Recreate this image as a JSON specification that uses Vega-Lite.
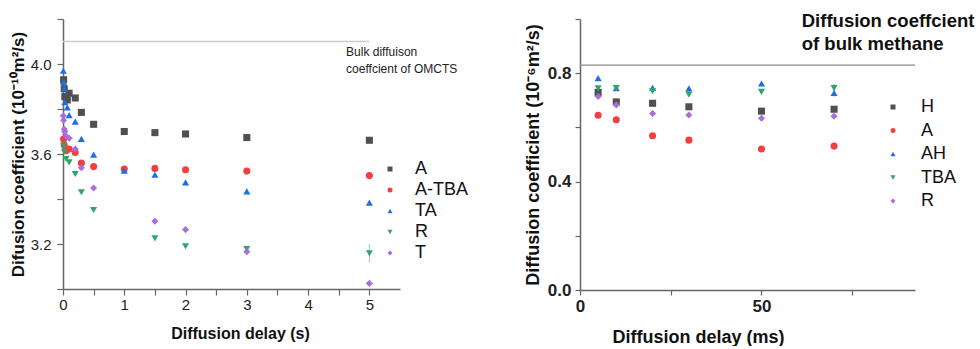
{
  "$schema": "https://vega.github.io/schema/vega-lite/v6.json",
  "padding": {"left": 9, "top": 10, "right": 0, "bottom": 0},
  "config": {
    "font": "Liberation Sans",
    "view": {"stroke": null},
    "axis": {"grid": false, "domainColor": "#666666", "tickColor": "#666666", "domainWidth": 1.5, "tickWidth": 1.2, "labelColor": "#222222", "titleColor": "#111111", "labelOverlap": false, "labelFlush": false}
  },
  "spacing": 180,
  "bounds": "flush",
  "resolve": {"scale": {"color": "independent", "shape": "independent", "x": "independent", "y": "independent"}},
  "hconcat": [
    {
      "width": 337,
      "height": 270,
      "encoding": {
        "x": {"field": "x", "type": "quantitative", "scale": {"domain": [0, 5.5], "nice": false}, "title": "Diffusion delay (s)",
          "axis": {"values": [0, 0.5, 1, 1.5, 2, 2.5, 3, 3.5, 4, 4.5, 5], "labelExpr": "datum.value % 1 === 0 ? format(datum.value, 'd') : ''", "labelFontSize": 15, "tickSize": 6, "labelPadding": 2, "titleFontSize": 16, "titleFontWeight": "bold", "titlePadding": 13, "titleX": 177}},
        "y": {"field": "y", "type": "quantitative", "scale": {"domain": [3.0, 4.2], "nice": false, "zero": false}, "title": "Difusion coefficient (10⁻¹⁰m²/s)",
          "axis": {"values": [3.0, 3.2, 3.4, 3.6, 3.8, 4.0, 4.2], "labelExpr": "(abs(datum.value-3.2)<0.001 || abs(datum.value-3.6)<0.001 || abs(datum.value-4.0)<0.001) ? format(datum.value, '.1f') : ''", "labelFontSize": 15, "tickSize": 6, "labelPadding": 6, "titleFontSize": 17, "titleFontWeight": "bold", "titlePadding": 3}}
      },
      "layer": [
        {
          "data": {"values": [{"x": 0, "x2": 5, "y": 4.1}]},
          "mark": {"type": "rule", "color": "#cccccc", "strokeWidth": 1.5},
          "encoding": {"x2": {"field": "x2"}}
        },
        {
          "data": {"values": [{"x": 3, "y": 3.168, "y2": 3.188}, {"x": 5, "y": 3.117, "y2": 3.201}]},
          "mark": {"type": "rule", "color": "#8fd1ad", "strokeWidth": 1},
          "encoding": {"y2": {"field": "y2"}}
        },
        {
          "data": {"values": [
            {"series": "A", "x": 0.01, "y": 3.93}, {"series": "A", "x": 0.02, "y": 3.89}, {"series": "A", "x": 0.03, "y": 3.855}, {"series": "A", "x": 0.07, "y": 3.84}, {"series": "A", "x": 0.1, "y": 3.87}, {"series": "A", "x": 0.2, "y": 3.849}, {"series": "A", "x": 0.3, "y": 3.785}, {"series": "A", "x": 0.5, "y": 3.732}, {"series": "A", "x": 1, "y": 3.70}, {"series": "A", "x": 1.5, "y": 3.695}, {"series": "A", "x": 2, "y": 3.689}, {"series": "A", "x": 3, "y": 3.673}, {"series": "A", "x": 5, "y": 3.661},
            {"series": "A-TBA", "x": 0.01, "y": 3.667}, {"series": "A-TBA", "x": 0.02, "y": 3.64}, {"series": "A-TBA", "x": 0.05, "y": 3.615}, {"series": "A-TBA", "x": 0.1, "y": 3.622}, {"series": "A-TBA", "x": 0.2, "y": 3.607}, {"series": "A-TBA", "x": 0.3, "y": 3.56}, {"series": "A-TBA", "x": 0.5, "y": 3.544}, {"series": "A-TBA", "x": 1, "y": 3.533}, {"series": "A-TBA", "x": 1.5, "y": 3.536}, {"series": "A-TBA", "x": 2, "y": 3.53}, {"series": "A-TBA", "x": 3, "y": 3.524}, {"series": "A-TBA", "x": 5, "y": 3.504},
            {"series": "TA", "x": 0.005, "y": 3.97}, {"series": "TA", "x": 0.01, "y": 3.92}, {"series": "TA", "x": 0.02, "y": 3.89}, {"series": "TA", "x": 0.03, "y": 3.83}, {"series": "TA", "x": 0.07, "y": 3.807}, {"series": "TA", "x": 0.1, "y": 3.773}, {"series": "TA", "x": 0.2, "y": 3.744}, {"series": "TA", "x": 0.3, "y": 3.667}, {"series": "TA", "x": 0.5, "y": 3.597}, {"series": "TA", "x": 1, "y": 3.526}, {"series": "TA", "x": 1.5, "y": 3.508}, {"series": "TA", "x": 2, "y": 3.474}, {"series": "TA", "x": 3, "y": 3.434}, {"series": "TA", "x": 5, "y": 3.384},
            {"series": "R", "x": 0.01, "y": 3.637}, {"series": "R", "x": 0.02, "y": 3.61}, {"series": "R", "x": 0.05, "y": 3.578}, {"series": "R", "x": 0.1, "y": 3.563}, {"series": "R", "x": 0.2, "y": 3.511}, {"series": "R", "x": 0.3, "y": 3.43}, {"series": "R", "x": 0.5, "y": 3.351}, {"series": "R", "x": 1.5, "y": 3.225}, {"series": "R", "x": 2, "y": 3.19}, {"series": "R", "x": 3, "y": 3.178}, {"series": "R", "x": 5, "y": 3.159},
            {"series": "T", "x": 0.005, "y": 3.77}, {"series": "T", "x": 0.01, "y": 3.75}, {"series": "T", "x": 0.02, "y": 3.71}, {"series": "T", "x": 0.03, "y": 3.70}, {"series": "T", "x": 0.05, "y": 3.68}, {"series": "T", "x": 0.1, "y": 3.67}, {"series": "T", "x": 0.2, "y": 3.622}, {"series": "T", "x": 0.3, "y": 3.539}, {"series": "T", "x": 0.5, "y": 3.449}, {"series": "T", "x": 1.5, "y": 3.301}, {"series": "T", "x": 2, "y": 3.264}, {"series": "T", "x": 3, "y": 3.166}, {"series": "T", "x": 5, "y": 3.025}
          ]},
          "mark": {"type": "point", "filled": true, "opacity": 1, "size": 50},
          "encoding": {
            "color": {"field": "series", "type": "nominal", "scale": {"domain": ["A", "A-TBA", "TA", "R", "T"], "range": ["#505050", "#f23f3f", "#1d6fe3", "#2ea56b", "#a86edb"]},
              "legend": {"orient": "none", "legendX": 318, "legendY": 141, "title": null, "labelFontSize": 18, "labelColor": "#111111", "symbolSize": 25, "rowPadding": 3, "labelOffset": 16, "padding": 0}},
            "shape": {"field": "series", "type": "nominal", "scale": {"domain": ["A", "A-TBA", "TA", "R", "T"], "range": ["square", "circle", "triangle-up", "triangle-down", "diamond"]},
              "legend": {"orient": "none", "legendX": 318, "legendY": 141, "title": null, "labelFontSize": 18, "labelColor": "#111111", "symbolSize": 25, "rowPadding": 3, "labelOffset": 16, "padding": 0}}
          }
        },
        {
          "data": {"values": [{"x": 4.62, "y": 4.053, "t": "Bulk diffuison"}, {"x": 4.62, "y": 3.978, "t": "coeffcient of OMCTS"}]},
          "mark": {"type": "text", "align": "left", "baseline": "middle", "fontSize": 12, "color": "#222222"},
          "encoding": {"text": {"field": "t"}}
        }
      ]
    },
    {
      "width": 335,
      "height": 271,
      "encoding": {
        "x": {"field": "x", "type": "quantitative", "scale": {"domain": [0, 92.3], "nice": false}, "title": "Diffusion delay (ms)",
          "axis": {"values": [0, 25, 50, 75], "labelExpr": "datum.value % 50 === 0 ? format(datum.value, 'd') : ''", "labelFontSize": 17, "labelFontWeight": "bold", "tickSize": 5, "labelPadding": 3, "titleFontSize": 18, "titleFontWeight": "bold", "titlePadding": 14, "titleX": 118}},
        "y": {"field": "y", "type": "quantitative", "scale": {"domain": [0, 1.0], "nice": false}, "title": "Diffusion coefficient (10⁻⁶m²/s)",
          "axis": {"values": [0, 0.2, 0.4, 0.6, 0.8, 1.0], "labelExpr": "(abs(datum.value)<0.001 || abs(datum.value-0.4)<0.001 || abs(datum.value-0.8)<0.001) ? format(datum.value, '.1f') : ''", "labelFontSize": 17, "labelFontWeight": "bold", "tickSize": 5, "labelPadding": 4, "titleFontSize": 18, "titleFontWeight": "bold", "titlePadding": 5}}
      },
      "layer": [
        {
          "data": {"values": [{"x": 0, "x2": 92.3, "y": 0.83}]},
          "mark": {"type": "rule", "color": "#8a8a8a", "strokeWidth": 1.2},
          "encoding": {"x2": {"field": "x2"}}
        },
        {
          "data": {"values": [{"x": 70, "y": 0.73, "y2": 0.76}, {"x": 70, "y": 0.712, "y2": 0.742}]},
          "mark": {"type": "rule", "color": "#9bb8e6", "strokeWidth": 1},
          "encoding": {"y2": {"field": "y2"}}
        },
        {
          "data": {"values": [
            {"series": "H", "x": 5, "y": 0.729}, {"series": "H", "x": 10, "y": 0.694}, {"series": "H", "x": 20, "y": 0.689}, {"series": "H", "x": 30, "y": 0.676}, {"series": "H", "x": 50, "y": 0.66}, {"series": "H", "x": 70, "y": 0.667},
            {"series": "A", "x": 5, "y": 0.645}, {"series": "A", "x": 10, "y": 0.628}, {"series": "A", "x": 20, "y": 0.569}, {"series": "A", "x": 30, "y": 0.553}, {"series": "A", "x": 50, "y": 0.52}, {"series": "A", "x": 70, "y": 0.531},
            {"series": "AH", "x": 5, "y": 0.782}, {"series": "AH", "x": 10, "y": 0.745}, {"series": "AH", "x": 20, "y": 0.746}, {"series": "AH", "x": 30, "y": 0.744}, {"series": "AH", "x": 50, "y": 0.762}, {"series": "AH", "x": 70, "y": 0.727},
            {"series": "TBA", "x": 5, "y": 0.744}, {"series": "TBA", "x": 10, "y": 0.745}, {"series": "TBA", "x": 20, "y": 0.734}, {"series": "TBA", "x": 30, "y": 0.721}, {"series": "TBA", "x": 50, "y": 0.731}, {"series": "TBA", "x": 70, "y": 0.745},
            {"series": "R", "x": 5, "y": 0.714}, {"series": "R", "x": 10, "y": 0.683}, {"series": "R", "x": 20, "y": 0.651}, {"series": "R", "x": 30, "y": 0.646}, {"series": "R", "x": 50, "y": 0.634}, {"series": "R", "x": 70, "y": 0.641}
          ]},
          "mark": {"type": "point", "filled": true, "opacity": 1, "size": 50},
          "encoding": {
            "color": {"field": "series", "type": "nominal", "scale": {"domain": ["H", "A", "AH", "TBA", "R"], "range": ["#505050", "#f23f3f", "#1d6fe3", "#2ea56b", "#a86edb"]},
              "legend": {"orient": "none", "legendX": 304, "legendY": 79, "title": null, "labelFontSize": 18, "labelColor": "#111111", "symbolSize": 25, "rowPadding": 5.5, "labelOffset": 19, "padding": 0}},
            "shape": {"field": "series", "type": "nominal", "scale": {"domain": ["H", "A", "AH", "TBA", "R"], "range": ["square", "circle", "triangle-up", "triangle-down", "diamond"]},
              "legend": {"orient": "none", "legendX": 304, "legendY": 79, "title": null, "labelFontSize": 18, "labelColor": "#111111", "symbolSize": 25, "rowPadding": 5.5, "labelOffset": 19, "padding": 0}}
          }
        },
        {
          "data": {"values": [{"x": 61.1, "y": 0.994, "t": "Diffusion coeffcient"}, {"x": 61.1, "y": 0.908, "t": "of bulk methane"}]},
          "mark": {"type": "text", "align": "left", "baseline": "middle", "fontSize": 18.5, "fontWeight": "bold", "color": "#111111"},
          "encoding": {"text": {"field": "t"}}
        }
      ]
    }
  ]
}
